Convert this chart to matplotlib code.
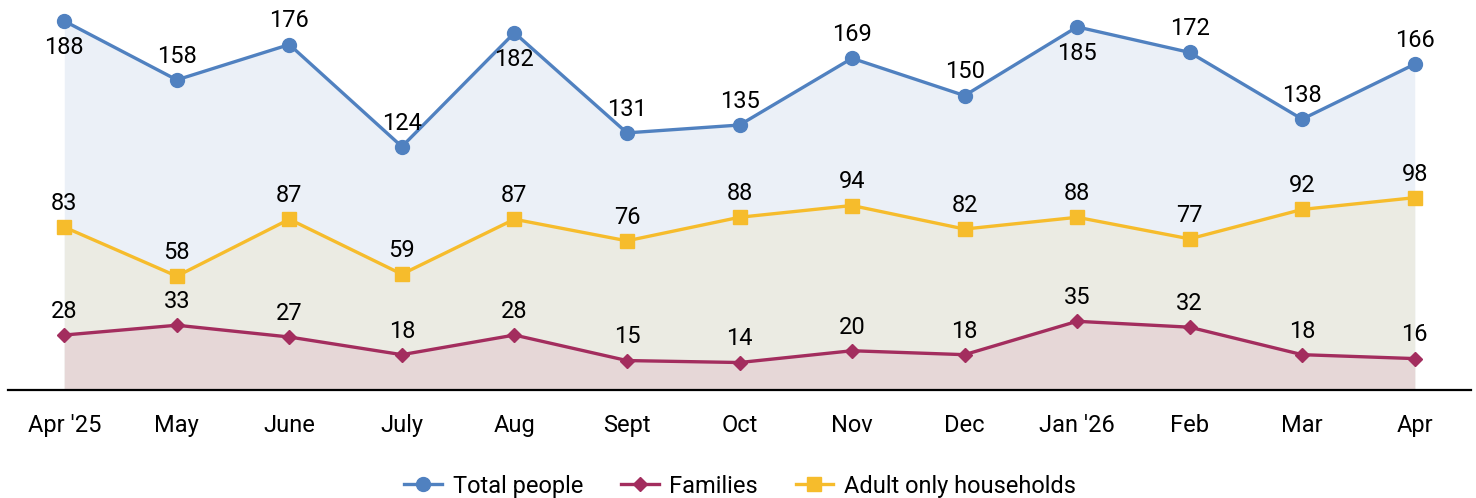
import numpy as np
import matplotlib.pyplot as plt

plt.rcParams['font.family'] = ['Roboto', 'DejaVu Sans']

months = ["Apr '25", 'May', 'June', 'July', 'Aug', 'Sept', 'Oct', 'Nov', 'Dec',
          "Jan '26", 'Feb', 'Mar', 'Apr']
total = [188, 158, 176, 124, 182, 131, 135, 169, 150, 185, 172, 138, 166]
families = [28, 33, 27, 18, 28, 15, 14, 20, 18, 35, 32, 18, 16]
adults = [83, 58, 87, 59, 87, 76, 88, 94, 82, 88, 77, 92, 98]

# label above (+) or below (-) the point, for the total series
total_pos = [-1, 1, 1, 1, -1, 1, 1, 1, 1, -1, 1, 1, 1]

blue = '#5081C0'
red = '#A32D5E'
yellow = '#F6BC2C'

fig = plt.figure(figsize=(14.76, 4.98), dpi=100)
ax = fig.add_axes([8 / 1476, 108 / 498, 1463 / 1476, 390 / 498])
x = np.arange(len(months))

ax.fill_between(x, 0, total, color='#EBF0F7', lw=0)
ax.fill_between(x, 0, adults, color='#EBEBE3', lw=0)
ax.fill_between(x, 0, families, color='#E6D7D7', lw=0)

ax.plot(x, total, color=blue, lw=2.4, marker='o', ms=10, label='Total people', clip_on=False, zorder=3)
ax.plot(x, families, color=red, lw=2.4, marker='D', ms=7.5, label='Families', clip_on=False, zorder=3)
ax.plot(x, adults, color=yellow, lw=2.4, marker='s', ms=9.5, label='Adult only households', clip_on=False, zorder=3)

fs = 17
for i, v in enumerate(total):
    off = 17 if total_pos[i] > 0 else -19
    ax.annotate(str(v), (i, v), xytext=(0, off), textcoords='offset points',
                ha='center', va='center', fontsize=fs)
for i, v in enumerate(adults):
    ax.annotate(str(v), (i, v), xytext=(0, 17), textcoords='offset points',
                ha='center', va='center', fontsize=fs)
for i, v in enumerate(families):
    ax.annotate(str(v), (i, v), xytext=(0, 17), textcoords='offset points',
                ha='center', va='center', fontsize=fs)

ax.set_xlim(-0.5, 12.5)
ax.set_ylim(0, 198.7)
ax.set_xticks(x)
ax.set_xticklabels(months, fontsize=fs)
ax.tick_params(axis='x', length=0, pad=17)
ax.set_yticks([])
for s in ['top', 'right', 'left']:
    ax.spines[s].set_visible(False)
ax.spines['bottom'].set_linewidth(1.6)

fig.legend(loc='center', bbox_to_anchor=(740 / 1476, 12 / 498), ncol=3, frameon=False,
           fontsize=fs, handlelength=1.6, columnspacing=1.6, handletextpad=0.45)

fig.savefig('out.png', dpi=100)
